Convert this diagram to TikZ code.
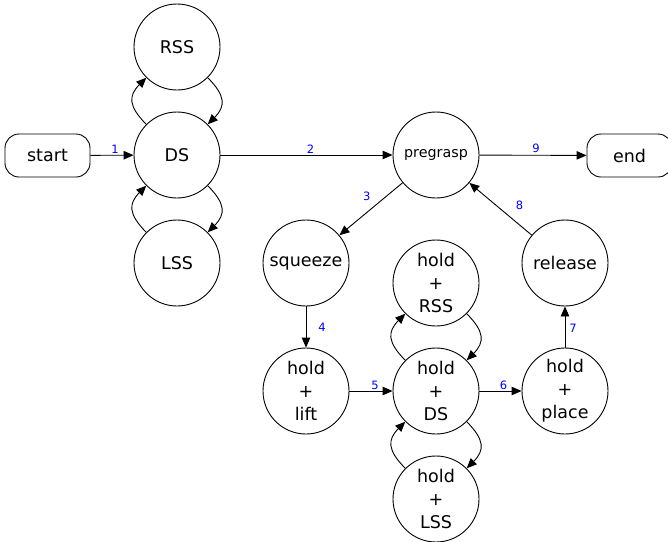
\documentclass[tikz,border=0pt]{standalone}
\usepackage{fontspec}
\setmainfont{DejaVu Sans}
\usetikzlibrary{arrows.meta}
\begin{document}
\begin{tikzpicture}[x=1pt,y=-1pt,
 st/.style={circle,draw,line width=0.9pt,minimum size=86pt,inner sep=0pt,font=\fontsize{17.5}{23}\selectfont,align=center},
 term/.style={rounded corners=14pt,draw,line width=0.9pt,minimum width=85pt,minimum height=43pt,inner sep=0pt,font=\fontsize{17.5}{23}\selectfont},
 arr/.style={-{Triangle[length=10pt,width=8.5pt]},line width=0.9pt},
 lab/.style={font=\fontsize{11.5}{13}\selectfont,text=blue,inner sep=1pt},
 loopl/.style={out=135,in=225,looseness=1.4},
 loopr/.style={out=315,in=45,looseness=1.4}]
\useasboundingbox (0,0) rectangle (668,541);
\node[term] (start) at (47.5,155.5) {start};
\node[st] (DS) at (177,155) {DS};
\node[st] (RSS) at (177,47) {RSS};
\node[st] (LSS) at (177,263) {LSS};
\node[st,font=\fontsize{14.3}{18}\selectfont] (pre) at (436,155) {pregrasp};
\node[term] (end) at (629.5,155.5) {end};
\node[st] (sq) at (306,263) {squeeze};
\node[st] (hl) at (306,391) {hold\\+\\lift};
\node[st] (hds) at (436,391) {hold\\+\\DS};
\node[st] (hrss) at (436,283) {hold\\+\\RSS};
\node[st] (hlss) at (436,499) {hold\\+\\LSS};
\node[st] (rel) at (565,263) {release};
\node[st] (hp) at (565,391) {hold\\+\\place};

\draw[arr] (start) -- node[lab,above,xshift=3pt] {1} (DS);
\draw[arr] (DS) -- node[lab,above,xshift=4pt] {2} (pre);
\draw[arr] (pre) -- node[lab,above,xshift=3pt,yshift=1pt] {9} (end);
\draw[arr] (pre) -- node[lab,above left,xshift=1pt,yshift=7pt] {3} (sq);
\draw[arr] (sq) -- node[lab,right,xshift=11pt] {4} (hl);
\draw[arr] (hl) -- node[lab,above,xshift=4pt] {5} (hds);
\draw[arr] (hds) -- node[lab,above,xshift=3pt] {6} (hp);
\draw[arr] (hp) -- node[lab,right,xshift=3pt,yshift=-1pt] {7} (rel);
\draw[arr] (rel) -- node[lab,right,xshift=14pt,yshift=4pt] {8} (pre);

\draw[arr] (DS.135) to[loopl] (RSS.225);
\draw[arr] (RSS.315) to[loopr] (DS.45);
\draw[arr] (LSS.135) to[loopl] (DS.225);
\draw[arr] (DS.315) to[loopr] (LSS.45);
\draw[arr] (hds.135) to[loopl] (hrss.225);
\draw[arr] (hrss.315) to[loopr] (hds.45);
\draw[arr] (hlss.135) to[loopl] (hds.225);
\draw[arr] (hds.315) to[loopr] (hlss.45);
\end{tikzpicture}
\end{document}
